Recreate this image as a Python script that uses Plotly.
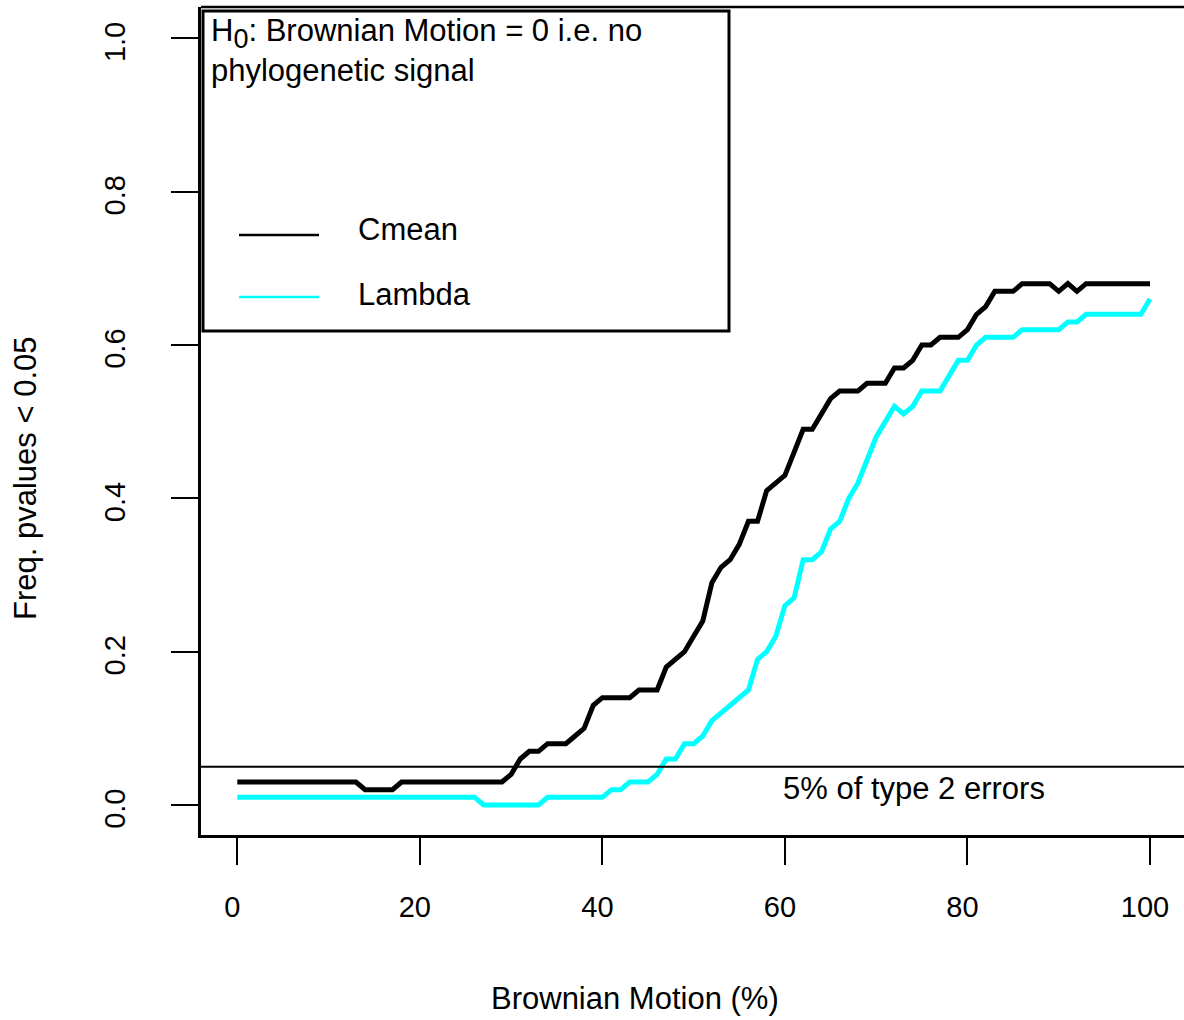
import plotly.graph_objects as go

# ---------------- data ----------------
brownian_pct = list(range(0, 101))

cmean = ([0.03] * 14 + [0.02] * 4 + [0.03] * 12 +
         [0.04, 0.06, 0.07, 0.07, 0.08, 0.08, 0.08, 0.09, 0.10, 0.13,   # 30-39
          0.14, 0.14, 0.14, 0.14, 0.15, 0.15, 0.15, 0.18, 0.19, 0.20,   # 40-49
          0.22, 0.24, 0.29, 0.31, 0.32, 0.34, 0.37, 0.37, 0.41, 0.42,   # 50-59
          0.43, 0.46, 0.49, 0.49, 0.51, 0.53, 0.54, 0.54, 0.54, 0.55,   # 60-69
          0.55, 0.55, 0.57, 0.57, 0.58, 0.60, 0.60, 0.61, 0.61, 0.61,   # 70-79
          0.62, 0.64, 0.65, 0.67, 0.67, 0.67, 0.68, 0.68, 0.68, 0.68,   # 80-89
          0.67, 0.68, 0.67] + [0.68] * 8)                                # 90-100

lambda_ = ([0.01] * 27 + [0.00] * 7 + [0.01] * 7 +
           [0.02, 0.02, 0.03, 0.03, 0.03, 0.04, 0.06, 0.06, 0.08,          # 41-49
            0.08, 0.09, 0.11, 0.12, 0.13, 0.14, 0.15, 0.19, 0.20, 0.22,   # 50-59
            0.26, 0.27, 0.32, 0.32, 0.33, 0.36, 0.37, 0.40, 0.42, 0.45,   # 60-69
            0.48, 0.50, 0.52, 0.51, 0.52, 0.54, 0.54, 0.54, 0.56, 0.58,   # 70-79
            0.58, 0.60, 0.61, 0.61, 0.61, 0.61, 0.62, 0.62, 0.62, 0.62,   # 80-89
            0.62, 0.63, 0.63] + [0.64] * 7 + [0.66])                       # 90-100

threshold = 0.05
x_ticks = [0, 20, 40, 60, 80, 100]
y_ticks = [0.0, 0.2, 0.4, 0.6, 0.8, 1.0]
y_tick_labels = ["0.0", "0.2", "0.4", "0.6", "0.8", "1.0"]

series_names = ["Cmean", "Lambda"]
series_colors = ["#000000", "#00FFFF"]

# ---------------- layout helpers ----------------
W, H = 1184, 1020
L, R, T, B = 201, 1184, 7, 835
FONT = "Liberation Sans, Arial, Helvetica, sans-serif"
FS = 31
TFS = 29


def px(x):
    return (x - L) / (R - L)


def py(y):
    return (B - y) / (B - T)


fig = go.Figure()
for name, vals, col in zip(series_names, [cmean, lambda_], series_colors):
    fig.add_trace(go.Scatter(x=brownian_pct, y=vals, mode="lines", name=name,
                             line=dict(color=col, width=5), showlegend=False))

shapes = []
# box top and threshold line
shapes.append(dict(type="line", xref="paper", yref="paper", x0=0, x1=1, y0=1, y1=1,
                   line=dict(color="black", width=2.5)))
shapes.append(dict(type="line", xref="paper", yref="y", x0=0, x1=1, y0=threshold, y1=threshold,
                   line=dict(color="black", width=2)))
# legend box
shapes.append(dict(type="rect", xref="paper", yref="paper", x0=px(203), x1=px(729),
                   y0=py(331), y1=py(11), line=dict(color="black", width=3),
                   fillcolor="white", layer="above"))
# legend lines
for yy, col in [(235, series_colors[0]), (297, series_colors[1])]:
    shapes.append(dict(type="line", xref="paper", yref="paper", x0=px(239), x1=px(319),
                       y0=py(yy), y1=py(yy), line=dict(color=col, width=2.5), layer="above"))

annotations = []


def txt(text, x, y, xanchor="left", angle=0, size=FS):
    annotations.append(dict(text=text, xref="paper", yref="paper", x=x, y=y,
                            xanchor=xanchor, yanchor="middle", showarrow=False,
                            textangle=angle, font=dict(family=FONT, size=size, color="black")))


txt("H<sub><span style='font-size:27px'>0</span></sub>: Brownian Motion = 0 i.e. no", px(209), py(33))
txt("phylogenetic signal", px(209), py(70))
txt(series_names[0], px(356), py(230))
txt(series_names[1], px(356), py(294))
txt("5% of type 2 errors", px(914), py(788), xanchor="center")
txt("Brownian Motion (%)", px(635), py(998), xanchor="center")
txt("Freq. pvalues < 0.05", px(25), py(479), xanchor="center", angle=-90)

fig.update_layout(
    width=W, height=H,
    margin=dict(l=L, r=W - R, t=T, b=H - B, pad=0),
    paper_bgcolor="white", plot_bgcolor="white",
    font=dict(family=FONT, size=FS, color="black"),
    shapes=shapes, annotations=annotations,
    xaxis=dict(range=[(L - 237.3) / 9.127, (R - 237.3) / 9.127],
               tickvals=x_ticks, ticks="outside", ticklen=27, tickwidth=2,
               tickcolor="black", showline=True, linecolor="black", linewidth=2.5,
               showgrid=False, zeroline=False, ticklabelstandoff=17, ticklabelshift=-5,
               tickfont=dict(family=FONT, size=TFS)),
    yaxis=dict(range=[(805 - B) / 766.7, (805 - T) / 766.7],
               tickvals=y_ticks, ticktext=y_tick_labels, tickangle=-90,
               ticks="outside", ticklen=27, tickwidth=2, tickcolor="black",
               showline=True, linecolor="black", linewidth=2.5,
               showgrid=False, zeroline=False, ticklabelstandoff=35, ticklabelshift=8,
               tickfont=dict(family=FONT, size=TFS)),
)

fig.write_html("out.html", config={"displayModeBar": False},
               post_script="document.body.style.margin='0';document.body.style.overflow='hidden';")
